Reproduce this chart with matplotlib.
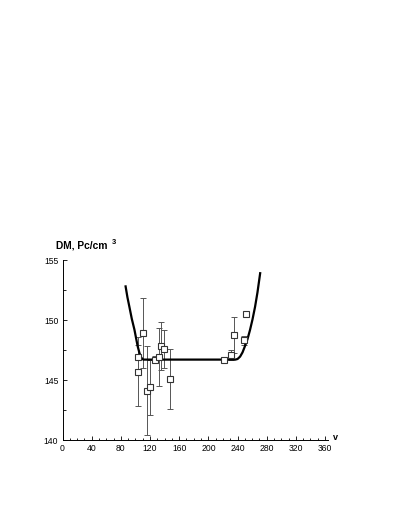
import matplotlib
matplotlib.use("Agg")
import matplotlib.pyplot as plt
from matplotlib.ticker import MultipleLocator

plt.rcParams['font.family'] = ['Liberation Sans', 'DejaVu Sans']

# observed points
obs_x = [103, 103, 110, 115.5, 120, 127.3, 132.8, 135, 139.6, 146.8, 222, 231, 234.5, 248.7, 251]
obs_y = [146.9, 145.7, 148.9, 144.1, 144.4, 146.7, 146.9, 147.8, 147.6, 145.1, 146.7, 147.1, 148.75, 148.3, 150.5]
obs_err = [1.0, 2.9, 2.9, 3.7, 2.3, 0.3, 2.4, 2.0, 1.6, 2.5, 0.2, 0.4, 1.5, 0.4, 0.0]

# model curve
curve_x = [86.5, 89.0, 91.7, 95.0, 98.6, 101.0, 103.1, 105.5, 107.7, 109.5, 111.0,
           237.0, 240.0, 243.5, 246.8, 250.0, 253.6, 257.0, 260.5, 264.0, 267.3, 271.0]
curve_y = [152.8, 151.9, 151.1, 150.1, 149.2, 148.45, 147.8, 147.25, 146.9, 146.75, 146.7,
           146.7, 146.75, 146.95, 147.3, 147.8, 148.4, 149.15, 150.05, 151.1, 152.3, 153.9]

xticks = [0, 40, 80, 120, 160, 200, 240, 280, 320, 360]
yticks = [140, 145, 150, 155]

fig = plt.figure(figsize=(3.99, 5.16), dpi=100)
ax = fig.add_axes([62.5/399, 1-440/516, (328-62.5)/399, 180/516])

ax.plot(curve_x, curve_y, color='black', lw=1.6, zorder=3)
ax.errorbar(obs_x, obs_y, yerr=obs_err, fmt='none', ecolor='#555555',
            elinewidth=0.7, capsize=2.2, capthick=0.7, zorder=2)
ax.plot(obs_x, obs_y, ls='none', marker='s', ms=4.7, mfc='white', mec='#333333',
        mew=0.8, zorder=4)

ax.set_xlim(0, 364)
ax.set_ylim(140, 155)
ax.set_xticks(xticks)
ax.set_yticks(yticks)
ax.xaxis.set_minor_locator(MultipleLocator(10))
ax.yaxis.set_minor_locator(MultipleLocator(2.5))
ax.tick_params(which='both', direction='in', labelsize=6.2, width=0.6, pad=3)
ax.tick_params(which='major', length=3)
ax.tick_params(which='minor', length=1.8)
ax.spines['top'].set_visible(False)
ax.spines['right'].set_visible(False)
for s in ('left', 'bottom'):
    ax.spines[s].set_linewidth(0.7)

fig.text(56/399, 1-246/516, 'DM, Pc/cm', fontsize=7.4, fontweight='bold',
         va='center', ha='left')
fig.text(112/399, 1-242/516, '3', fontsize=5.4, fontweight='bold',
         va='center', ha='left')
fig.text(333/399, 1-438/516, 'v', fontsize=6.5, fontweight='bold', va='center', ha='left')

fig.savefig('out.png', dpi=100)
